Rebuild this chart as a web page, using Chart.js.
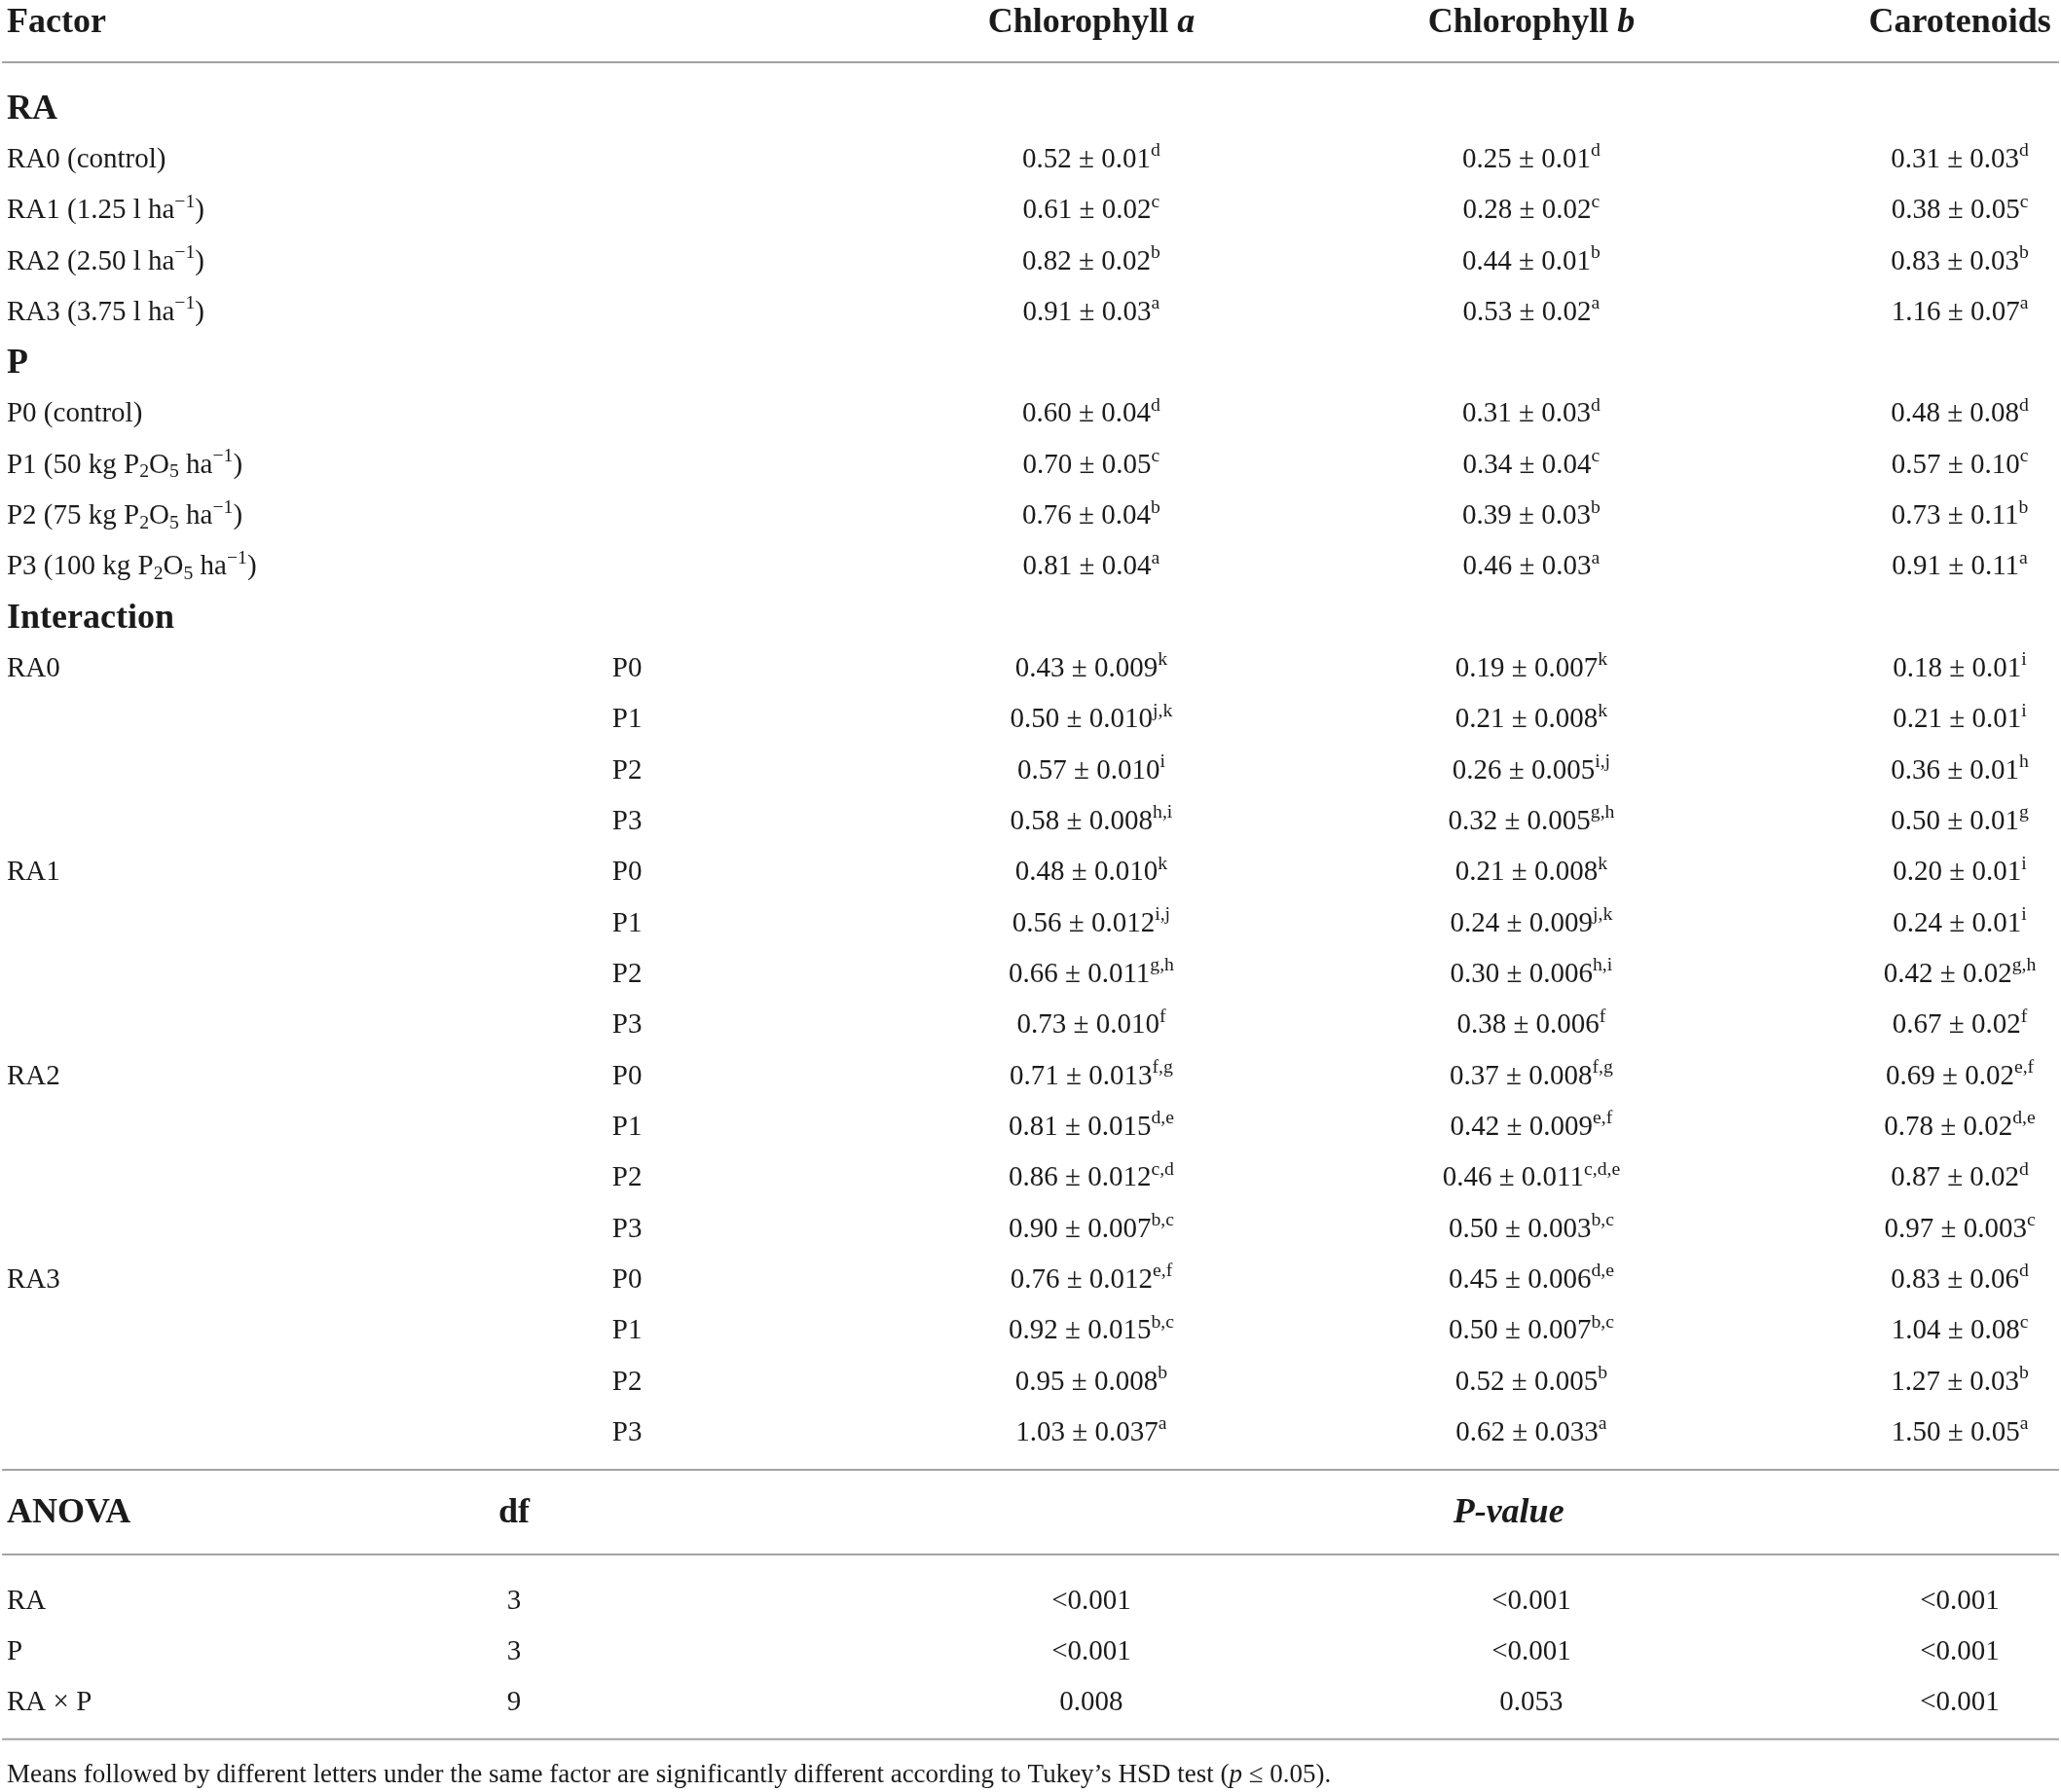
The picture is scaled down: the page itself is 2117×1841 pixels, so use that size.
<!DOCTYPE html>
<html>
<head>
<meta charset="utf-8">
<script src="https://cdn.jsdelivr.net/npm/chart.js@4.4.1/dist/chart.umd.min.js"></script>
<style>
  html, body { margin: 0; padding: 0; background: #fff; }
  #tableChart { display: block; }
</style>
</head>
<body>
<canvas id="tableChart" width="2117" height="1841"></canvas>
<script>
// column titles (markup: ^{..} superscript, _{..} subscript, *..* italic)
const columnTitles = ['Chlorophyll *a*', 'Chlorophyll *b*', 'Carotenoids'];
const sectionTitles = ['RA', 'P', 'Interaction'];

const raLevels = ['RA0 (control)', 'RA1 (1.25 l ha^{−1})', 'RA2 (2.50 l ha^{−1})', 'RA3 (3.75 l ha^{−1})'];
const pLevels = ['P0 (control)', 'P1 (50 kg P_{2}O_{5} ha^{−1})', 'P2 (75 kg P_{2}O_{5} ha^{−1})', 'P3 (100 kg P_{2}O_{5} ha^{−1})'];
const raCodes = ['RA0', 'RA1', 'RA2', 'RA3'];
const pCodes = ['P0', 'P1', 'P2', 'P3'];

// main effect of RA
const raChlA = [0.52, 0.61, 0.82, 0.91];
const raChlASd = ['0.01', '0.02', '0.02', '0.03'];
const raChlB = [0.25, 0.28, 0.44, 0.53];
const raChlBSd = ['0.01', '0.02', '0.01', '0.02'];
const raCar = [0.31, 0.38, 0.83, 1.16];
const raCarSd = ['0.03', '0.05', '0.03', '0.07'];
const raGroups = ['d', 'c', 'b', 'a'];

// main effect of P
const pChlA = [0.60, 0.70, 0.76, 0.81];
const pChlASd = ['0.04', '0.05', '0.04', '0.04'];
const pChlB = [0.31, 0.34, 0.39, 0.46];
const pChlBSd = ['0.03', '0.04', '0.03', '0.03'];
const pCar = [0.48, 0.57, 0.73, 0.91];
const pCarSd = ['0.08', '0.10', '0.11', '0.11'];
const pGroups = ['d', 'c', 'b', 'a'];

// RA x P interaction, ordered RA0P0, RA0P1 ... RA3P3
const ixChlA = [0.43, 0.50, 0.57, 0.58, 0.48, 0.56, 0.66, 0.73, 0.71, 0.81, 0.86, 0.90, 0.76, 0.92, 0.95, 1.03];
const ixChlASd = ['0.009', '0.010', '0.010', '0.008', '0.010', '0.012', '0.011', '0.010', '0.013', '0.015', '0.012', '0.007', '0.012', '0.015', '0.008', '0.037'];
const ixChlAGroups = ['k', 'j,k', 'i', 'h,i', 'k', 'i,j', 'g,h', 'f', 'f,g', 'd,e', 'c,d', 'b,c', 'e,f', 'b,c', 'b', 'a'];
const ixChlB = [0.19, 0.21, 0.26, 0.32, 0.21, 0.24, 0.30, 0.38, 0.37, 0.42, 0.46, 0.50, 0.45, 0.50, 0.52, 0.62];
const ixChlBSd = ['0.007', '0.008', '0.005', '0.005', '0.008', '0.009', '0.006', '0.006', '0.008', '0.009', '0.011', '0.003', '0.006', '0.007', '0.005', '0.033'];
const ixChlBGroups = ['k', 'k', 'i,j', 'g,h', 'k', 'j,k', 'h,i', 'f', 'f,g', 'e,f', 'c,d,e', 'b,c', 'd,e', 'b,c', 'b', 'a'];
const ixCar = [0.18, 0.21, 0.36, 0.50, 0.20, 0.24, 0.42, 0.67, 0.69, 0.78, 0.87, 0.97, 0.83, 1.04, 1.27, 1.50];
const ixCarSd = ['0.01', '0.01', '0.01', '0.01', '0.01', '0.01', '0.02', '0.02', '0.02', '0.02', '0.02', '0.003', '0.06', '0.08', '0.03', '0.05'];
const ixCarGroups = ['i', 'i', 'h', 'g', 'i', 'i', 'g,h', 'f', 'e,f', 'd,e', 'd', 'c', 'd', 'c', 'b', 'a'];

// ANOVA
const anovaTerms = ['RA', 'P', 'RA × P'];
const anovaDf = [3, 3, 9];
const anovaPChlA = ['<0.001', '<0.001', '0.008'];
const anovaPChlB = ['<0.001', '<0.001', '0.053'];
const anovaPCar = ['<0.001', '<0.001', '<0.001'];

const footnote = 'Means followed by different letters under the same factor are significantly different according to Tukey’s HSD test (*p* ≤ 0.05).';

// layout (axis units): x runs 0..100 across the page, y counts table rows
const COL = { factor: 0.33, level: 29.7, df: 24.94, a: 52.95, b: 74.3, car: 95.09, pval: 73.2 };
const ROW_STEP = 52.32;
const FONT = '"Liberation Serif", "Times New Roman", serif';
const INK = '#1b1b1b';
const RULE = '#a3a3a3';
const HEAD_SIZE = 36;
const BODY_SIZE = 29;
const NOTE_SIZE = 27;

// build the body rows
const bodyRows = [];
bodyRows.push({ section: sectionTitles[0] });
raLevels.forEach((lab, i) => bodyRows.push({ label: lab, cells: [
  [raChlA[i], raChlASd[i], raGroups[i]], [raChlB[i], raChlBSd[i], raGroups[i]], [raCar[i], raCarSd[i], raGroups[i]]] }));
bodyRows.push({ section: sectionTitles[1] });
pLevels.forEach((lab, i) => bodyRows.push({ label: lab, cells: [
  [pChlA[i], pChlASd[i], pGroups[i]], [pChlB[i], pChlBSd[i], pGroups[i]], [pCar[i], pCarSd[i], pGroups[i]]] }));
bodyRows.push({ section: sectionTitles[2] });
raCodes.forEach((ra, r) => pCodes.forEach((p, c) => {
  const k = r * pCodes.length + c;
  bodyRows.push({ label: c === 0 ? ra : '', level: p, cells: [
    [ixChlA[k], ixChlASd[k], ixChlAGroups[k]], [ixChlB[k], ixChlBSd[k], ixChlBGroups[k]], [ixCar[k], ixCarSd[k], ixCarGroups[k]]] });
}));

const last = bodyRows.length - 1;
const yHeader = -1.70;
const rules = [-0.88, last + 0.76, last + 2.42, last + 6.05];
const yAnovaHead = last + 1.56;
const yAnova0 = last + 3.3;
const yFoot = last + 6.72;

function parseRich(str) {
  const runs = [];
  let mode = 'n', italic = false, buf = '';
  const flush = () => { if (buf) runs.push({ text: buf, mode, italic }); buf = ''; };
  for (let i = 0; i < str.length; i++) {
    const ch = str[i];
    if ((ch === '^' || ch === '_') && str[i + 1] === '{') { flush(); mode = ch === '^' ? 'sup' : 'sub'; i++; }
    else if (ch === '}' && mode !== 'n') { flush(); mode = 'n'; }
    else if (ch === '*') { flush(); italic = !italic; }
    else buf += ch;
  }
  flush();
  return runs;
}

function drawRich(ctx, str, px, py, align, size, weight) {
  const runs = parseRich(str);
  const fontOf = r => {
    const s = r.mode === 'n' ? size : size * 0.68;
    return (r.italic ? 'italic ' : '') + weight + ' ' + s + 'px ' + FONT;
  };
  let total = 0;
  runs.forEach(r => { ctx.font = fontOf(r); r.w = ctx.measureText(r.text).width; total += r.w; });
  let x = align === 'left' ? px : align === 'right' ? px - total : px - total / 2;
  const base = py + size * 0.33;
  ctx.textAlign = 'left';
  ctx.textBaseline = 'alphabetic';
  runs.forEach(r => {
    ctx.font = fontOf(r);
    const dy = r.mode === 'sup' ? -size * 0.40 : r.mode === 'sub' ? size * 0.16 : 0;
    ctx.fillText(r.text, x, base + dy);
    x += r.w;
  });
}

const cellText = c => c[0].toFixed(2) + ' ± ' + c[1] + '^{' + c[2] + '}';

const tablePlugin = {
  id: 'tableText',
  afterDatasetsDraw(chart) {
    const { ctx, scales: { x, y } } = chart;
    const valueCols = [COL.a, COL.b, COL.car];
    ctx.save();
    ctx.fillStyle = INK;

    // header
    drawRich(ctx, 'Factor', x.getPixelForValue(COL.factor), y.getPixelForValue(yHeader), 'left', HEAD_SIZE, 'bold');
    columnTitles.forEach((t, i) => drawRich(ctx, t, x.getPixelForValue(valueCols[i]), y.getPixelForValue(yHeader), 'center', HEAD_SIZE, 'bold'));

    // body
    bodyRows.forEach((row, i) => {
      const py = y.getPixelForValue(i);
      if (row.section) {
        drawRich(ctx, row.section, x.getPixelForValue(COL.factor), py, 'left', HEAD_SIZE, 'bold');
        return;
      }
      if (row.label) drawRich(ctx, row.label, x.getPixelForValue(COL.factor), py, 'left', BODY_SIZE, 'normal');
      if (row.level) drawRich(ctx, row.level, x.getPixelForValue(COL.level), py, 'left', BODY_SIZE, 'normal');
      row.cells.forEach((c, j) => drawRich(ctx, cellText(c), x.getPixelForValue(valueCols[j]), py, 'center', BODY_SIZE, 'normal'));
    });

    // ANOVA block
    const ha = y.getPixelForValue(yAnovaHead);
    drawRich(ctx, 'ANOVA', x.getPixelForValue(COL.factor), ha, 'left', HEAD_SIZE, 'bold');
    drawRich(ctx, 'df', x.getPixelForValue(COL.df), ha, 'center', HEAD_SIZE, 'bold');
    drawRich(ctx, '*P-value*', x.getPixelForValue(COL.pval), ha, 'center', HEAD_SIZE, 'bold');
    anovaTerms.forEach((t, i) => {
      const py = y.getPixelForValue(yAnova0 + i);
      drawRich(ctx, t, x.getPixelForValue(COL.factor), py, 'left', BODY_SIZE, 'normal');
      drawRich(ctx, String(anovaDf[i]), x.getPixelForValue(COL.df), py, 'center', BODY_SIZE, 'normal');
      drawRich(ctx, anovaPChlA[i], x.getPixelForValue(COL.a), py, 'center', BODY_SIZE, 'normal');
      drawRich(ctx, anovaPChlB[i], x.getPixelForValue(COL.b), py, 'center', BODY_SIZE, 'normal');
      drawRich(ctx, anovaPCar[i], x.getPixelForValue(COL.car), py, 'center', BODY_SIZE, 'normal');
    });

    drawRich(ctx, footnote, x.getPixelForValue(COL.factor), y.getPixelForValue(yFoot), 'left', NOTE_SIZE, 'normal');
    ctx.restore();
  }
};

const ruleSets = rules.map(r => ({
  data: [{ x: 0.1, y: r }, { x: 99.9, y: r }],
  showLine: true,
  borderColor: RULE,
  borderWidth: 2,
  pointRadius: 0,
  fill: false
}));

const yMin = -110 / ROW_STEP;
new Chart(document.getElementById('tableChart').getContext('2d'), {
  type: 'scatter',
  data: { datasets: ruleSets },
  options: {
    responsive: false,
    animation: false,
    devicePixelRatio: 1,
    layout: { padding: 0 },
    scales: {
      x: { type: 'linear', display: false, min: 0, max: 100 },
      y: { type: 'linear', display: false, reverse: true, min: yMin, max: yMin + 1841 / ROW_STEP }
    },
    plugins: { legend: { display: false }, tooltip: { enabled: false } }
  },
  plugins: [tablePlugin]
});
</script>
</body>
</html>
